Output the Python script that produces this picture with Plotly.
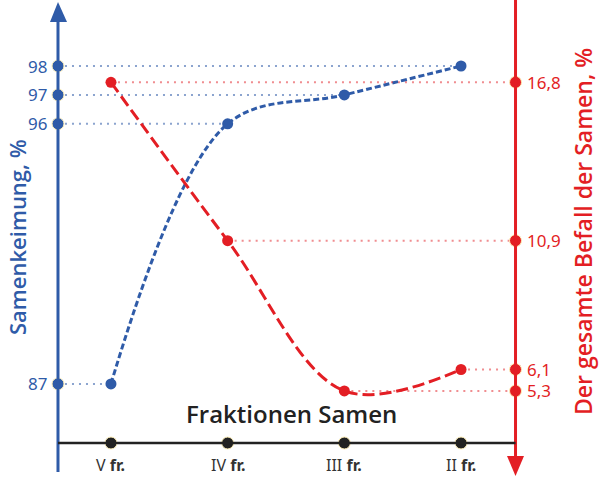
import plotly.graph_objects as go

categories = ["V", "IV", "III", "II"]
germination = [87, 96, 97, 98]          # Samenkeimung, %
infestation = [16.8, 10.9, 5.3, 6.1]    # Befall, %

BLUE = "#2f5ba8"
RED = "#e31e24"
DARK = "#222222"
CREAM = "#fff0b8"
FONT = "Noto Sans"
TFONT = "Open Sans"

X_LEFT = -0.454   # blue axis position (x units)
X_RIGHT = 3.467   # red axis position
xs = list(range(len(categories)))

def fmt(v):
    return (f"{v:.1f}".replace(".", ",")) if isinstance(v, float) else str(v)

fig = go.Figure()

# guide lines (dotted)
for i, v in enumerate(germination):
    fig.add_trace(go.Scatter(x=[X_LEFT, xs[i]], y=[v, v], mode="lines",
                             line=dict(color=BLUE, width=2, dash="2px,5px"),
                             opacity=0.55, hoverinfo="skip", showlegend=False))
for i, v in enumerate(infestation):
    fig.add_trace(go.Scatter(x=[xs[i], X_RIGHT], y=[v, v], mode="lines", yaxis="y2",
                             line=dict(color=RED, width=2, dash="2px,5px"),
                             opacity=0.5, hoverinfo="skip", showlegend=False))

# data curves
fig.add_trace(go.Scatter(x=xs, y=germination, mode="lines+markers",
                         line=dict(color=BLUE, width=3, dash="6px,3px", shape="spline", smoothing=1.0),
                         marker=dict(size=11, color=BLUE, line=dict(width=0)),
                         showlegend=False))
fig.add_trace(go.Scatter(x=xs, y=infestation, mode="lines+markers", yaxis="y2",
                         line=dict(color=RED, width=3, dash="12px,5px", shape="spline", smoothing=1.0),
                         marker=dict(size=11, color=RED, line=dict(width=0)),
                         showlegend=False))

# axis lines and arrows (shapes)
shapes = [
    dict(type="line", xref="x", yref="paper", x0=X_LEFT, x1=X_LEFT, y0=1 - 472 / 490, y1=1 - 20 / 490,
         line=dict(color=BLUE, width=3)),
    dict(type="path", xref="paper", yref="paper",
         path=f"M {50/600},{1-22/490} L {58/600},{1-2/490} L {67/600},{1-22/490} Z",
         fillcolor=BLUE, line=dict(color=BLUE, width=0)),
    dict(type="line", xref="x", yref="paper", x0=X_RIGHT, x1=X_RIGHT, y0=1 - 0 / 490, y1=1 - 458 / 490,
         line=dict(color=RED, width=3)),
    dict(type="path", xref="paper", yref="paper",
         path=f"M {507/600},{1-456/490} L {515.5/600},{1-476/490} L {524/600},{1-456/490} Z",
         fillcolor=RED, line=dict(color=RED, width=0)),
    dict(type="line", xref="x", yref="paper", x0=X_LEFT, x1=X_RIGHT, y0=1 - 443 / 490, y1=1 - 443 / 490,
         line=dict(color=DARK, width=2.5)),
]

# axis markers
fig.add_trace(go.Scatter(x=[X_LEFT] * len(germination), y=germination, mode="markers",
                         marker=dict(size=12, color=BLUE, line=dict(color=CREAM, width=1)),
                         showlegend=False))
fig.add_trace(go.Scatter(x=[X_RIGHT] * len(infestation), y=infestation, mode="markers", yaxis="y2",
                         marker=dict(size=12, color=RED, line=dict(color=CREAM, width=1)),
                         showlegend=False))
fig.add_trace(go.Scatter(x=xs, y=[1 - 443 / 490] * len(xs), mode="markers", yaxis="y3",
                         marker=dict(size=12, color=DARK, line=dict(color=CREAM, width=1)),
                         showlegend=False))

annotations = []
for v in germination:
    annotations.append(dict(x=X_LEFT, y=v, xref="x", yref="y", text=fmt(v), showarrow=False,
                            xanchor="right", yanchor="middle", xshift=-9,
                            font=dict(family=FONT, size=17, color=BLUE)))
for v in infestation:
    annotations.append(dict(x=X_RIGHT, y=v, xref="x", yref="y2", text=fmt(v), showarrow=False,
                            xanchor="left", yanchor="middle", xshift=9,
                            font=dict(family=FONT, size=17, color=RED)))
for i, c in enumerate(categories):
    annotations.append(dict(x=xs[i], y=1 - 465 / 490, xref="x", yref="paper",
                            text=f"{c} <b>fr.</b>", showarrow=False,
                            xanchor="center", yanchor="middle",
                            font=dict(family=FONT, size=16, color="#333333")))
annotations.append(dict(x=291 / 600, y=1 - 413 / 490, xref="paper", yref="paper",
                        text="Fraktionen Samen", showarrow=False,
                        xanchor="center", yanchor="middle",
                        font=dict(family=TFONT, size=24, color=DARK, weight=600)))
annotations.append(dict(x=17 / 600, y=1 - 237 / 490, xref="paper", yref="paper",
                        text="Samenkeimung, %", showarrow=False, textangle=-90,
                        xanchor="center", yanchor="middle",
                        font=dict(family=TFONT, size=22, color=BLUE, weight=600)))
annotations.append(dict(x=583 / 600, y=1 - 232 / 490, xref="paper", yref="paper",
                        text="Der gesamte Befall der Samen, %", showarrow=False, textangle=-90,
                        xanchor="center", yanchor="middle",
                        font=dict(family=TFONT, size=23, color=RED, weight=600)))

fig.update_layout(
    width=600, height=490, margin=dict(l=0, r=0, t=0, b=0),
    paper_bgcolor="white", plot_bgcolor="white",
    xaxis=dict(range=[-0.951, 4.191], visible=False, fixedrange=True),
    yaxis=dict(range=[83.329, 100.284], visible=False),
    yaxis2=dict(range=[1.610, 19.866], visible=False, overlaying="y"),
    yaxis3=dict(range=[0, 1], visible=False, overlaying="y"),
    shapes=shapes, annotations=annotations,
)

fig.write_html("out.html")
